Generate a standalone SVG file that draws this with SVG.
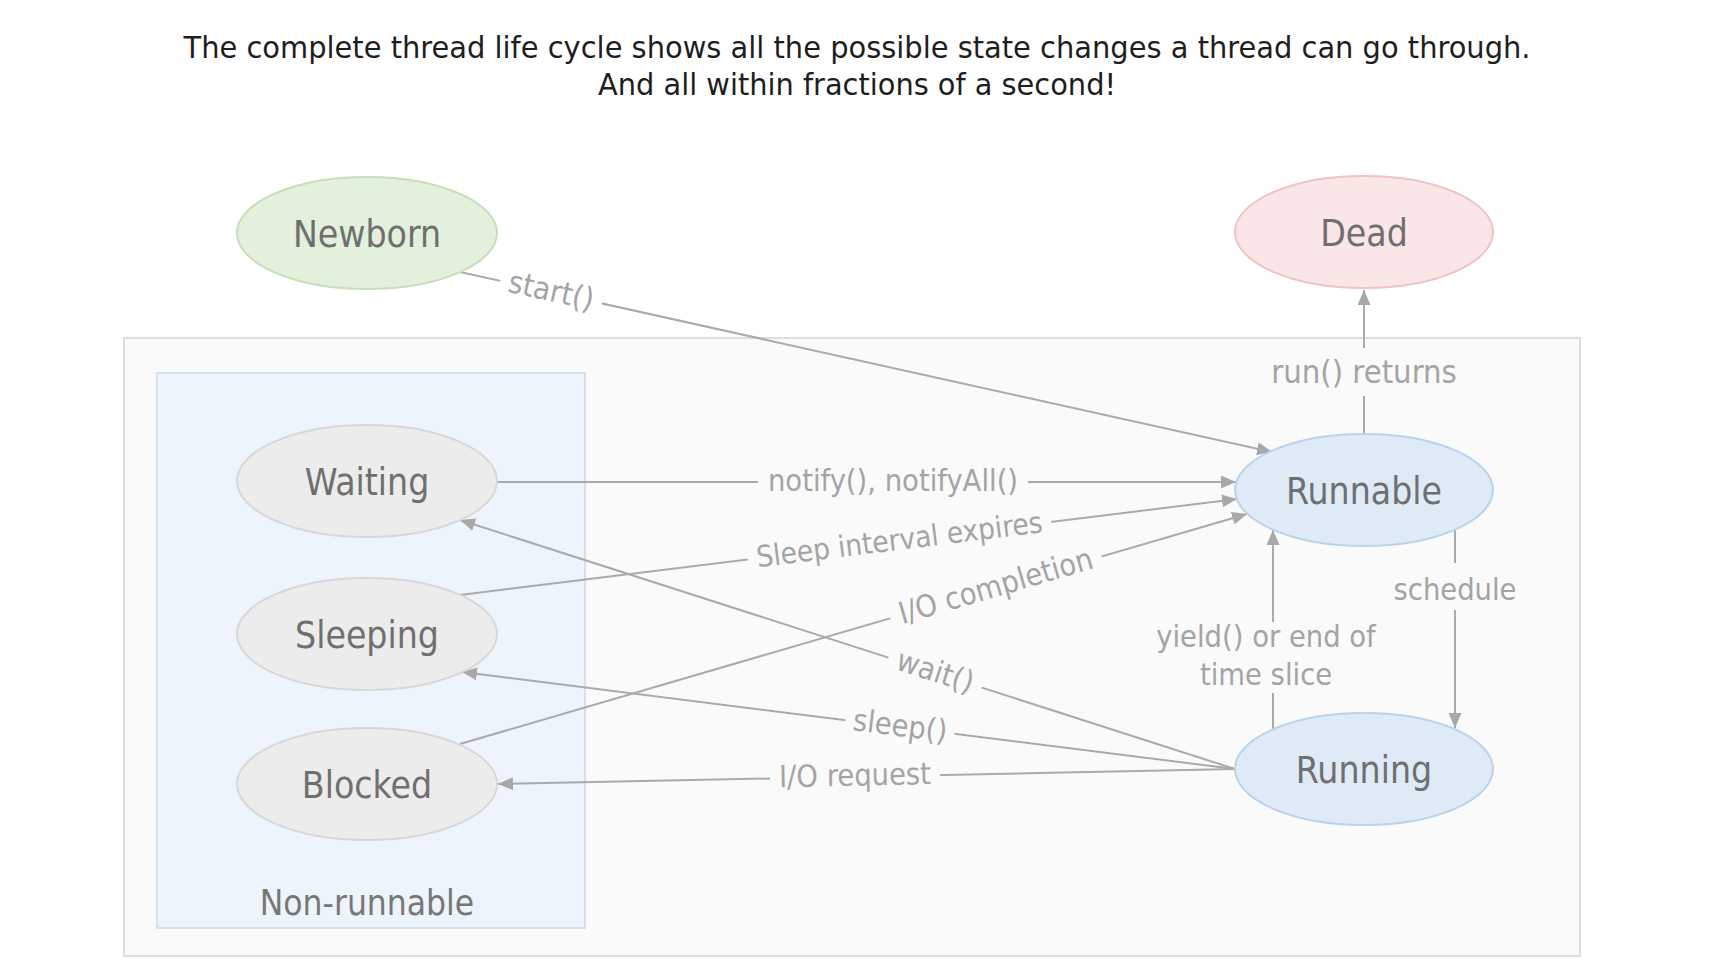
<svg xmlns="http://www.w3.org/2000/svg" width="1712" height="979" viewBox="0 0 1712 979">
  <defs>
    <style>
      text { font-family: "DejaVu Sans Condensed", "DejaVu Sans", "Liberation Sans", sans-serif; font-stretch: condensed; }
      .title { font-size: 31px; fill: #1e1e1e; text-anchor: middle; }
      .node-label { font-size: 37px; fill: #6f6f6f; text-anchor: middle; }
      .group-label { font-size: 35px; fill: #777777; text-anchor: middle; }
      .edge { stroke: #aaaaaa; stroke-width: 2; fill: none; marker-end: url(#ah); }
      .edge-label { font-size: 30.5px; fill: #a4a4a4; text-anchor: middle; }
      .lbg { fill: #fafafa; }
      .lbg-white { fill: #ffffff; }
      .st-green { fill: #e3f0dc; stroke: #c6dfb8; stroke-width: 2; }
      .st-red { fill: #fbe6e7; stroke: #eec3c4; stroke-width: 2; }
      .st-gray { fill: #ececec; stroke: #d7d7d7; stroke-width: 2; }
      .st-blue { fill: #deeaf6; stroke: #bad3ea; stroke-width: 2; }
    </style>
    <marker id="ah" viewBox="0 0 15 13" refX="15" refY="6.5" markerWidth="15" markerHeight="13" markerUnits="userSpaceOnUse" orient="auto">
      <path d="M0,0 L15,6.5 L0,13 z" fill="#a8a8a8"/>
    </marker>
  </defs>

  <rect x="0" y="0" width="1712" height="979" fill="#ffffff"/>

  <g id="title">
    <text class="title" x="857" y="58" textLength="1347" lengthAdjust="spacingAndGlyphs">The complete thread life cycle shows all the possible state changes a thread can go through.</text>
    <text class="title" x="857" y="95" textLength="518" lengthAdjust="spacingAndGlyphs">And all within fractions of a second!</text>
  </g>

  <g id="container">
    <rect x="124" y="338" width="1456" height="618" fill="#fafafa" stroke="#dedede" stroke-width="2"/>
  </g>

  <g id="non-runnable">
    <rect x="157" y="373" width="428" height="555" fill="#eef4fb" stroke="#d5e0ec" stroke-width="2"/>
    <text class="group-label" x="367" y="915">Non-runnable</text>
  </g>

  <g id="connectors">
    <path class="edge" d="M460,272 L1272,452"/>
    <path class="edge" d="M497,482 L1236,482"/>
    <path class="edge" d="M460,595 L1237,499"/>
    <path class="edge" d="M460,744 L1247,514"/>
    <path class="edge" d="M1235,769 L460,520"/>
    <path class="edge" d="M1235,769 L462,672"/>
    <path class="edge" d="M1235,769 L498,784"/>
    <path class="edge" d="M1273,729 L1273,530"/>
    <path class="edge" d="M1455,530 L1455,728"/>
    <path class="edge" d="M1364,435 L1364,290"/>

    <g transform="translate(551,292.2) rotate(12.51)">
      <rect class="lbg-white" x="-52" y="-16" width="104" height="32"/>
      <text class="edge-label" x="0" y="9" style="font-size:31px">start()</text>
    </g>
    <g transform="translate(893,482)">
      <rect class="lbg" x="-135" y="-15" width="270" height="30"/>
      <text class="edge-label" x="0" y="9">notify(), notifyAll()</text>
    </g>
    <g transform="translate(899.5,540.7) rotate(-7.04)">
      <rect class="lbg" x="-153" y="-15" width="306" height="30"/>
      <text class="edge-label" x="0" y="9" style="font-size:29.5px">Sleep interval expires</text>
    </g>
    <g transform="translate(996,587.4) rotate(-16.29)">
      <rect class="lbg" x="-110" y="-15" width="220" height="30"/>
      <text class="edge-label" x="0" y="9">I/O completion</text>
    </g>
    <g transform="translate(935,672.6) rotate(17.81)">
      <rect class="lbg" x="-49" y="-15" width="98" height="30"/>
      <text class="edge-label" x="0" y="9">wait()</text>
    </g>
    <g transform="translate(900,727) rotate(7.15)">
      <rect class="lbg" x="-55" y="-15" width="110" height="30"/>
      <text class="edge-label" x="0" y="9">sleep()</text>
    </g>
    <g transform="translate(855,776.7) rotate(-1.17)">
      <rect class="lbg" x="-85" y="-15" width="170" height="30"/>
      <text class="edge-label" x="0" y="9">I/O request</text>
    </g>
    <g>
      <rect class="lbg" x="1154" y="622" width="226" height="71"/>
      <text class="edge-label" x="1266" y="647">yield() or end of</text>
      <text class="edge-label" x="1266" y="685">time slice</text>
    </g>
    <g>
      <rect class="lbg" x="1392" y="563" width="126" height="47"/>
      <text class="edge-label" x="1455" y="600">schedule</text>
    </g>
    <g>
      <rect class="lbg" x="1258" y="348" width="212" height="48"/>
      <text class="edge-label" x="1364" y="383" style="font-size:32.5px">run() returns</text>
    </g>
  </g>

  <g id="node-newborn">
    <ellipse class="st-green" cx="367" cy="233" rx="130" ry="56"/>
    <text class="node-label" x="367" y="246.5">Newborn</text>
  </g>
  <g id="node-dead">
    <ellipse class="st-red" cx="1364" cy="232" rx="129" ry="56"/>
    <text class="node-label" x="1364" y="246">Dead</text>
  </g>
  <g id="node-waiting">
    <ellipse class="st-gray" cx="367" cy="481" rx="130" ry="56"/>
    <text class="node-label" x="367" y="494.5">Waiting</text>
  </g>
  <g id="node-sleeping">
    <ellipse class="st-gray" cx="367" cy="634" rx="130" ry="56"/>
    <text class="node-label" x="367" y="647.5">Sleeping</text>
  </g>
  <g id="node-blocked">
    <ellipse class="st-gray" cx="367" cy="784" rx="130" ry="56"/>
    <text class="node-label" x="367" y="797.5">Blocked</text>
  </g>
  <g id="node-runnable">
    <ellipse class="st-blue" cx="1364" cy="490" rx="129" ry="56"/>
    <text class="node-label" x="1364" y="503.5">Runnable</text>
  </g>
  <g id="node-running">
    <ellipse class="st-blue" cx="1364" cy="769" rx="129" ry="56"/>
    <text class="node-label" x="1364" y="782.5">Running</text>
  </g>
</svg>
